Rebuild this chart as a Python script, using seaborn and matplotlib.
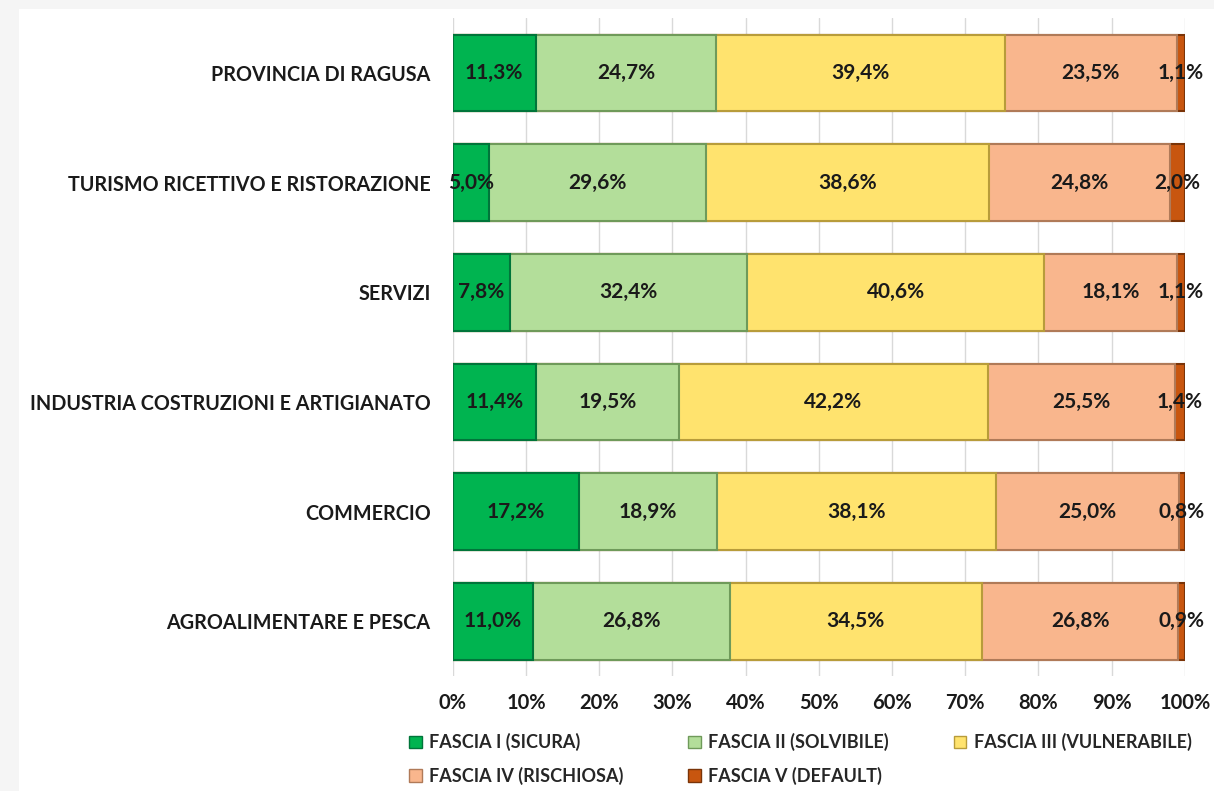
import numpy as np
import pandas as pd
import matplotlib.pyplot as plt
import seaborn as sns
from matplotlib.patches import Rectangle, Patch

categories=['PROVINCIA DI RAGUSA','TURISMO RICETTIVO E RISTORAZIONE','SERVIZI',
            'INDUSTRIA COSTRUZIONI E ARTIGIANATO','COMMERCIO','AGROALIMENTARE E PESCA']
fascia_1=[11.3,5.0,7.8,11.4,17.2,11.0]
fascia_2=[24.7,29.6,32.4,19.5,18.9,26.8]
fascia_3=[39.4,38.6,40.6,42.2,38.1,34.5]
fascia_4=[23.5,24.8,18.1,25.5,25.0,26.8]
fascia_5=[1.1,2.0,1.1,1.4,0.8,0.9]
series_names=['FASCIA I (SICURA)','FASCIA II (SOLVIBILE)','FASCIA III (VULNERABILE)',
              'FASCIA IV (RISCHIOSA)','FASCIA V (DEFAULT)']
colors=['#00B450','#B3DE9A','#FFE36E','#F9B68D','#C8560F']
edges=['#00753a','#6f9a5a','#b89c3a','#b07a58','#7a3408']

sns.set_style('white')
plt.rcParams['font.family']=['Lato','DejaVu Sans']
plt.rcParams['font.weight']='bold'

df=pd.DataFrame({'cat':categories,'f1':fascia_1,'f2':fascia_2,'f3':fascia_3,'f4':fascia_4,'f5':fascia_5})
cols=['f1','f2','f3','f4','f5']
cum=df[cols].cumsum(axis=1)

fig,ax=plt.subplots(figsize=(12.14,7.91),dpi=100)
fig.patch.set_facecolor('#f5f5f5')
fig.patches.append(Rectangle((19/1214,0),1-19/1214,1-9/791,transform=fig.transFigure,
                             facecolor='white',edgecolor='none',zorder=-10))
fig.subplots_adjust(left=0.373,right=0.976,top=0.977,bottom=0.145)

# draw cumulative bars from the longest to the shortest so each segment shows
for i in range(4,-1,-1):
    sns.barplot(x=cum[cols[i]],y=df['cat'],orient='h',color=colors[i],width=0.7,saturation=1,
                edgecolor=edges[i],linewidth=1.5,ax=ax,zorder=3)

for i,c in enumerate(cols):
    centers=cum[c]-df[c]/2
    for j,(xc,v) in enumerate(zip(centers,df[c])):
        ax.text(xc,j,f'{v:.1f}%'.replace('.',','),ha='center',va='center',
                fontsize=15,fontweight='bold',color='#1a1a1a',zorder=5)

ax.set_xlim(0,100)
ax.set_ylim(5.5,-0.5)
ax.set_xticks(np.arange(0,101,10))
ax.set_xticklabels([f'{t}%' for t in range(0,101,10)])
ax.grid(axis='x',color='#d9d9d9',linewidth=1,zorder=0)
ax.set_axisbelow(True)
for s in ax.spines.values():
    s.set_visible(False)
ax.set_xlabel('')
ax.set_ylabel('')
ax.tick_params(axis='x',length=0,labelsize=14.5,colors='#1a1a1a',pad=12)
ax.tick_params(axis='y',length=0,labelsize=14.2,colors='#1a1a1a',pad=16)
for lab in ax.get_xticklabels()+ax.get_yticklabels():
    lab.set_fontweight('bold')

handles=[Patch(facecolor=colors[k],edgecolor=edges[k],label=series_names[k]) for k in range(5)]
order=[0,3,1,4,2]
ax.legend([handles[k] for k in order],[series_names[k] for k in order],ncol=3,
          loc='upper left',bbox_to_anchor=(-0.082,-0.062),frameon=False,
          prop={'weight':'bold','size':13},handlelength=0.7,handleheight=0.7,
          handletextpad=0.4,columnspacing=3.6,labelspacing=0.85)

plt.savefig('out.png',dpi=100,facecolor=fig.get_facecolor())
